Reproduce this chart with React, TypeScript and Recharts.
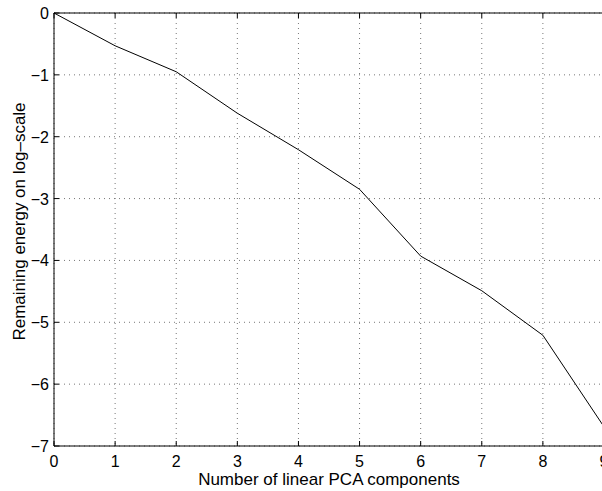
import React from "react";
import { LineChart, Line, XAxis, YAxis, CartesianGrid, Label } from "recharts";

// remaining energy (log10) after keeping k linear PCA components
const COMPONENTS = [0, 1, 2, 3, 4, 5, 6, 7, 8, 9];
const LOG_ENERGY = [0, -0.53, -0.95, -1.62, -2.21, -2.85, -3.93, -4.49, -5.21, -6.69];
const X_TICKS = [0, 1, 2, 3, 4, 5, 6, 7, 8, 9];
const Y_TICKS = [-7, -6, -5, -4, -3, -2, -1, 0];

const FONT = "'Liberation Sans', Arial, Helvetica, sans-serif";
const TICK_LEN = 5;
const TICK_FONT = 16;
const LABEL_FONT = 17;

const data = COMPONENTS.map((k, i) => ({ k, e: LOG_ENERGY[i] }));

// matlab-style ticks: short marks pointing into the axes box
function BottomTick(props: any) {
  const { x, y, payload } = props;
  return (
    <g>
      <line x1={x} x2={x} y1={y} y2={y - TICK_LEN} stroke="#000" />
      <text x={x} y={y + 21} textAnchor="middle" fontFamily={FONT} fontSize={TICK_FONT} fill="#000">
        {payload.value}
      </text>
    </g>
  );
}

function TopTick(props: any) {
  const { x, y } = props;
  return <line x1={x} x2={x} y1={y} y2={y + TICK_LEN} stroke="#000" />;
}

function LeftTick(props: any) {
  const { x, y, payload } = props;
  const label = payload.value < 0 ? `\u2212${-payload.value}` : `${payload.value}`;
  return (
    <g>
      <line x1={x} x2={x + TICK_LEN} y1={y} y2={y} stroke="#000" />
      <text x={x - 5} y={y + 6} textAnchor="end" fontFamily={FONT} fontSize={TICK_FONT} fill="#000">
        {label}
      </text>
    </g>
  );
}

function RightTick(props: any) {
  const { x, y } = props;
  return <line x1={x} x2={x - TICK_LEN} y1={y} y2={y} stroke="#000" />;
}

export default function App() {
  return (
    <div
      style={{
        position: "fixed",
        left: 0,
        top: 0,
        width: 602,
        height: 491,
        overflow: "hidden",
        background: "#fff",
      }}
    >
      <LineChart
        width={620}
        height={491}
        data={data}
        margin={{ top: 12, right: 15, bottom: 44, left: 53 }}
      >
        <CartesianGrid
          xAxisId="b"
          yAxisId="l"
          stroke="#777"
          strokeDasharray="1 4"
          horizontalValues={Y_TICKS}
          verticalValues={X_TICKS}
        />
        <XAxis
          xAxisId="b"
          dataKey="k"
          type="number"
          domain={[0, 9]}
          ticks={X_TICKS}
          height={1}
          tickSize={0}
          tickMargin={0}
          tickLine={false}
          axisLine={{ stroke: "#000" }}
          tick={<BottomTick />}
          interval={0}
        >
          <Label
            content={({ viewBox }: any) => (
              <text
                x={viewBox.x + viewBox.width / 2}
                y={viewBox.y + 39}
                textAnchor="middle"
                fontFamily={FONT}
                fontSize={LABEL_FONT}
                fill="#000"
              >
                Number of linear PCA components
              </text>
            )}
          />
        </XAxis>
        <XAxis
          xAxisId="t"
          dataKey="k"
          type="number"
          orientation="top"
          domain={[0, 9]}
          ticks={X_TICKS}
          height={1}
          tickSize={0}
          tickMargin={0}
          tickLine={false}
          axisLine={{ stroke: "#000" }}
          tick={<TopTick />}
          interval={0}
        />
        <YAxis
          yAxisId="l"
          type="number"
          domain={[-7, 0]}
          ticks={Y_TICKS}
          width={1}
          tickSize={0}
          tickMargin={0}
          tickLine={false}
          axisLine={{ stroke: "#000" }}
          tick={<LeftTick />}
          interval={0}
        >
          <Label
            content={({ viewBox }: any) => {
              const cx = viewBox.x + viewBox.width - 29;
              const cy = viewBox.y + viewBox.height / 2 - 8;
              return (
                <text
                  x={cx}
                  y={cy}
                  transform={`rotate(-90 ${cx} ${cy})`}
                  textAnchor="middle"
                  fontFamily={FONT}
                  fontSize={LABEL_FONT}
                  fill="#000"
                >
                  Remaining energy on log–scale
                </text>
              );
            }}
          />
        </YAxis>
        <YAxis
          yAxisId="r"
          orientation="right"
          type="number"
          domain={[-7, 0]}
          ticks={Y_TICKS}
          width={1}
          tickSize={0}
          tickMargin={0}
          tickLine={false}
          axisLine={{ stroke: "#000" }}
          tick={<RightTick />}
          interval={0}
        />
        <Line
          xAxisId="b"
          yAxisId="l"
          type="linear"
          dataKey="e"
          stroke="#000"
          strokeWidth={1}
          dot={false}
          isAnimationActive={false}
        />
      </LineChart>
    </div>
  );
}
